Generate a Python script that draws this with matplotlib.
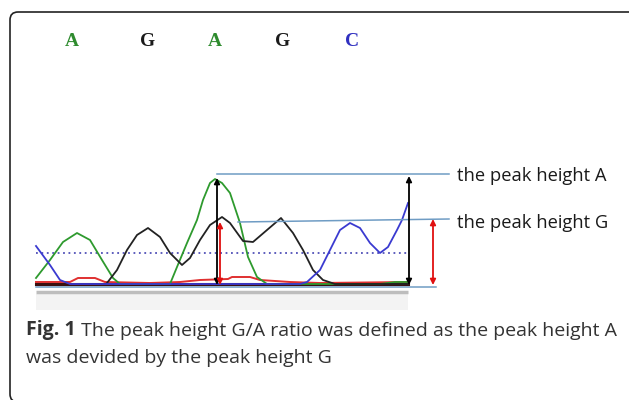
import matplotlib.pyplot as plt
from matplotlib.patches import FancyBboxPatch, Rectangle

# Base calls at the top of the trace
bases = ['A', 'G', 'A', 'G', 'C']
base_x = [72, 148, 215, 283, 352]
base_colors = ['#2e8b2e', '#1a1a1a', '#2e8b2e', '#1a1a1a', '#3030c0']

# Trace samples: position along the trace and signal height above baseline
green_x = [36, 50, 63, 77, 90, 102, 113, 120, 170, 177, 187, 197, 203, 210, 215,
           222, 230, 240, 248, 257, 267, 300, 380, 395, 408]
green_h = [7, 25, 43, 52, 45, 25, 7, 1, 1, 18, 42, 65, 85, 102, 106,
           102, 92, 62, 28, 8, 1, 1, 1, 3, 3]

black_x = [107, 117, 127, 137, 148, 160, 170, 182, 190, 200, 210, 222, 230, 243,
           253, 267, 281, 293, 303, 313, 323, 335, 408]
black_h = [2, 15, 35, 50, 57, 48, 32, 20, 27, 45, 60, 68, 62, 44,
           43, 55, 67, 52, 35, 15, 5, 1, 1]

blue_x = [36, 50, 60, 70, 300, 307, 320, 330, 340, 350, 360, 370, 380, 388, 397, 402, 408]
blue_h = [39, 20, 5, 1, 1, 3, 15, 35, 55, 62, 57, 42, 32, 38, 55, 65, 82]

red_x = [36, 70, 78, 95, 105, 150, 180, 200, 228, 232, 250, 260, 290, 320, 408]
red_h = [3, 3, 7, 7, 3, 2, 3, 5, 6, 8, 8, 5, 3, 2, 3]

noise_x = [36, 408]
noise_h = [1, 1]

# Reference lines and arrows (position, height)
threshold_h = 32
peak_a_x = [217, 449]
peak_a_h = [111, 111]
peak_g_x = [238, 449]
peak_g_h = [63, 66]
zero_x = [36, 436]
zero_h = [-2, -2]
arrows = [(217, 107, 'black'), (409, 109, 'black'), (220, 63, '#e01010'), (433, 66, '#e01010')]

caption_bold = 'Fig. 1'
caption_rest = ' The peak height G/A ratio was defined as the peak height A'
caption_line2 = 'was devided by the peak height G'

fig = plt.figure(figsize=(6.29, 4.0), dpi=100)
ax = fig.add_axes([0, 0, 1, 1])
ax.set_xlim(0, 629)
ax.set_ylim(-115, 285)
ax.axis('off')

# rounded frame
ax.add_patch(FancyBboxPatch((10, -117), 630, 390, boxstyle='round,pad=0,rounding_size=8',
                            fill=False, ec='#222222', lw=1.2))

# grey strip under the trace
ax.add_patch(Rectangle((36, -25), 372, 16, fc='#f3f3f3', ec='none'))
ax.plot([36, 408], [-7, -7], color='#bdbdbd', lw=2.5, solid_capstyle='butt')

for b, x, c in zip(bases, base_x, base_colors):
    ax.text(x, 243, b, color=c, fontsize=14, fontweight='bold',
            family='Liberation Serif', ha='center', va='center')

ax.plot([36, 409], [threshold_h, threshold_h], color='#5050b8', lw=1.3, ls=(0, (1, 2)))
ax.plot(noise_x, noise_h, color='#3a1010', lw=2.2)
ax.plot(red_x, red_h, color='#e03030', lw=1.4)
ax.plot(green_x, green_h, color='#2e9a2e', lw=1.3)
ax.plot(black_x, black_h, color='#222222', lw=1.3)
ax.plot(blue_x, blue_h, color='#3a3ad0', lw=1.3)

ax.plot(peak_a_x, peak_a_h, color='#6f9cc4', lw=1.1)
ax.plot(peak_g_x, peak_g_h, color='#6f9cc4', lw=1.1)
ax.plot(zero_x, zero_h, color='#6f9cc4', lw=1.1)

for x, h, c in arrows:
    ax.annotate('', xy=(x, h), xytext=(x, 0),
                arrowprops=dict(arrowstyle='<|-|>', color=c, lw=1.3,
                                mutation_scale=8, shrinkA=0, shrinkB=0))

ax.text(457, 109, 'the peak height A', fontsize=13.2, family='Open Sans',
        color='#1a1a1a', va='center')
ax.text(457, 62, 'the peak height G', fontsize=13.2, family='Open Sans',
        color='#1a1a1a', va='center')

t1 = ax.text(26, -45, caption_bold, fontsize=14, family='Open Sans', fontweight='bold',
             color='#333333', va='center')
ax.annotate(caption_rest, xy=(1, 0), xycoords=t1, va='bottom', ha='left',
            fontsize=14, family='Open Sans', color='#333333')
ax.text(26, -73, caption_line2, fontsize=14, family='Open Sans',
        color='#333333', va='center')

fig.savefig('out.png', dpi=100)
